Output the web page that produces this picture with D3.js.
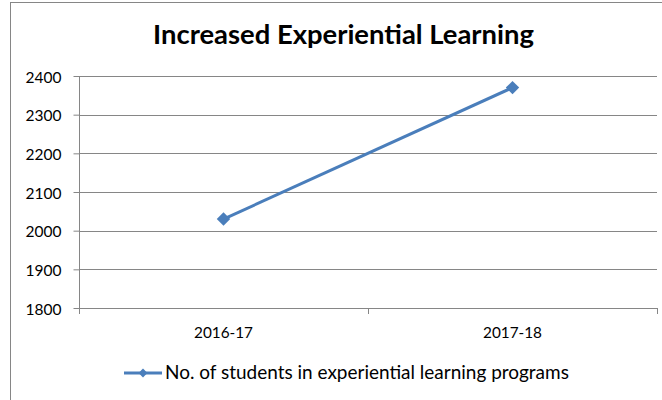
<!DOCTYPE html>
<html><head><meta charset="utf-8">
<script src="https://cdn.jsdelivr.net/npm/d3@7"></script>
<style>body{margin:0;background:#fff;}svg{display:block;}</style>
</head><body>
<script>
const categories = ["2016-17", "2017-18"];
const values = [2030, 2370];
const yTicks = [1800, 1900, 2000, 2100, 2200, 2300, 2400];
const seriesName = "No. of students in experiential learning programs";
const title = "Increased Experiential Learning";

const W = 662, H = 400;
const svg = d3.select("body").append("svg").attr("width", W).attr("height", H);
svg.append("rect").attr("width", W).attr("height", H).attr("fill", "#fff");
svg.append("rect").attr("x", 10.5).attr("y", 2.5).attr("width", 700).attr("height", 500)
  .attr("fill", "none").attr("stroke", "#868686").attr("stroke-width", 1);

const font = "Lato, 'Open Sans', sans-serif";
function fit(sel, target) {
  const node = sel.node();
  const fs = parseFloat(sel.attr("font-size"));
  const w = node.getComputedTextLength();
  if (w > 0) sel.attr("font-size", (fs * target / w).toFixed(2));
  return sel;
}

const m = {left: 79, right: 657, top: 76, bottom: 308};
const x = d3.scaleBand().domain(categories).range([m.left, m.right]);
const y = d3.scaleLinear().domain([1800, 2400]).range([m.bottom, m.top]);

svg.append("g").selectAll("line").data(yTicks.filter(d => d !== 1800)).join("line")
  .attr("x1", m.left).attr("x2", m.right)
  .attr("y1", d => Math.round(y(d)) + 0.5).attr("y2", d => Math.round(y(d)) + 0.5)
  .attr("stroke", "#868686").attr("stroke-width", 1);

const yAxis = svg.append("g").attr("transform", `translate(${m.left + 0.5},0)`)
  .call(d3.axisLeft(y).tickValues(yTicks).tickSize(6).tickPadding(12).tickFormat(d3.format("d")));
yAxis.select(".domain").attr("stroke", "#868686").attr("d", `M-0,${m.top}V${m.bottom}`);
yAxis.selectAll(".tick line").attr("stroke", "#868686");
yAxis.selectAll(".tick text").attr("font-family", font).attr("font-size", 15).attr("fill", "#000")
  .attr("dy", null).attr("y", 6);
yAxis.selectAll(".tick text").each(function () { fit(d3.select(this), 36); });

const xAxis = svg.append("g").attr("transform", `translate(0,${m.bottom + 0.5})`)
  .call(d3.axisBottom(x).tickSize(0).tickPadding(0));
xAxis.select(".domain").attr("stroke", "#868686").attr("d", `M${m.left},0H${m.right}`);
xAxis.selectAll(".tick text").attr("font-family", font).attr("font-size", 15).attr("fill", "#000")
  .attr("dy", null).attr("y", 29.5);
xAxis.selectAll(".tick text").each(function () { fit(d3.select(this), 59); });
const bounds = [m.left, ...categories.map(c => x(c) + x.bandwidth())];
svg.append("g").selectAll("line").data(bounds).join("line")
  .attr("x1", d => Math.round(d) + 0.5).attr("x2", d => Math.round(d) + 0.5)
  .attr("y1", m.bottom).attr("y2", m.bottom + 6)
  .attr("stroke", "#868686");

const color = "#4A7EBB";
const line = d3.line().x((d, i) => x(categories[i]) + x.bandwidth() / 2).y(d => y(d));
svg.append("path").datum(values).attr("d", line).attr("fill", "none")
  .attr("stroke", color).attr("stroke-width", 3).attr("stroke-linejoin", "round");
const diamond = d3.symbol().type(d3.symbolDiamond2).size(115);
svg.append("g").selectAll("path").data(values).join("path")
  .attr("d", diamond)
  .attr("transform", (d, i) => `translate(${x(categories[i]) + x.bandwidth() / 2},${y(d)})`)
  .attr("fill", color);

const t = svg.append("text").attr("x", 343.5).attr("y", 43.5).attr("text-anchor", "middle")
  .attr("font-family", font).attr("font-weight", "bold").attr("font-size", 25)
  .attr("fill", "#000").text(title);
fit(t, 381);

const ly = 373;
svg.append("line").attr("x1", 124).attr("x2", 162).attr("y1", ly).attr("y2", ly)
  .attr("stroke", color).attr("stroke-width", 3);
svg.append("path").attr("d", d3.symbol().type(d3.symbolDiamond2).size(50))
  .attr("transform", `translate(143,${ly})`).attr("fill", color);
const lt = svg.append("text").attr("x", 165).attr("y", 379)
  .attr("font-family", font).attr("font-size", 16.5).attr("fill", "#000").text(seriesName);
fit(lt, 404);
</script>
</body></html>
